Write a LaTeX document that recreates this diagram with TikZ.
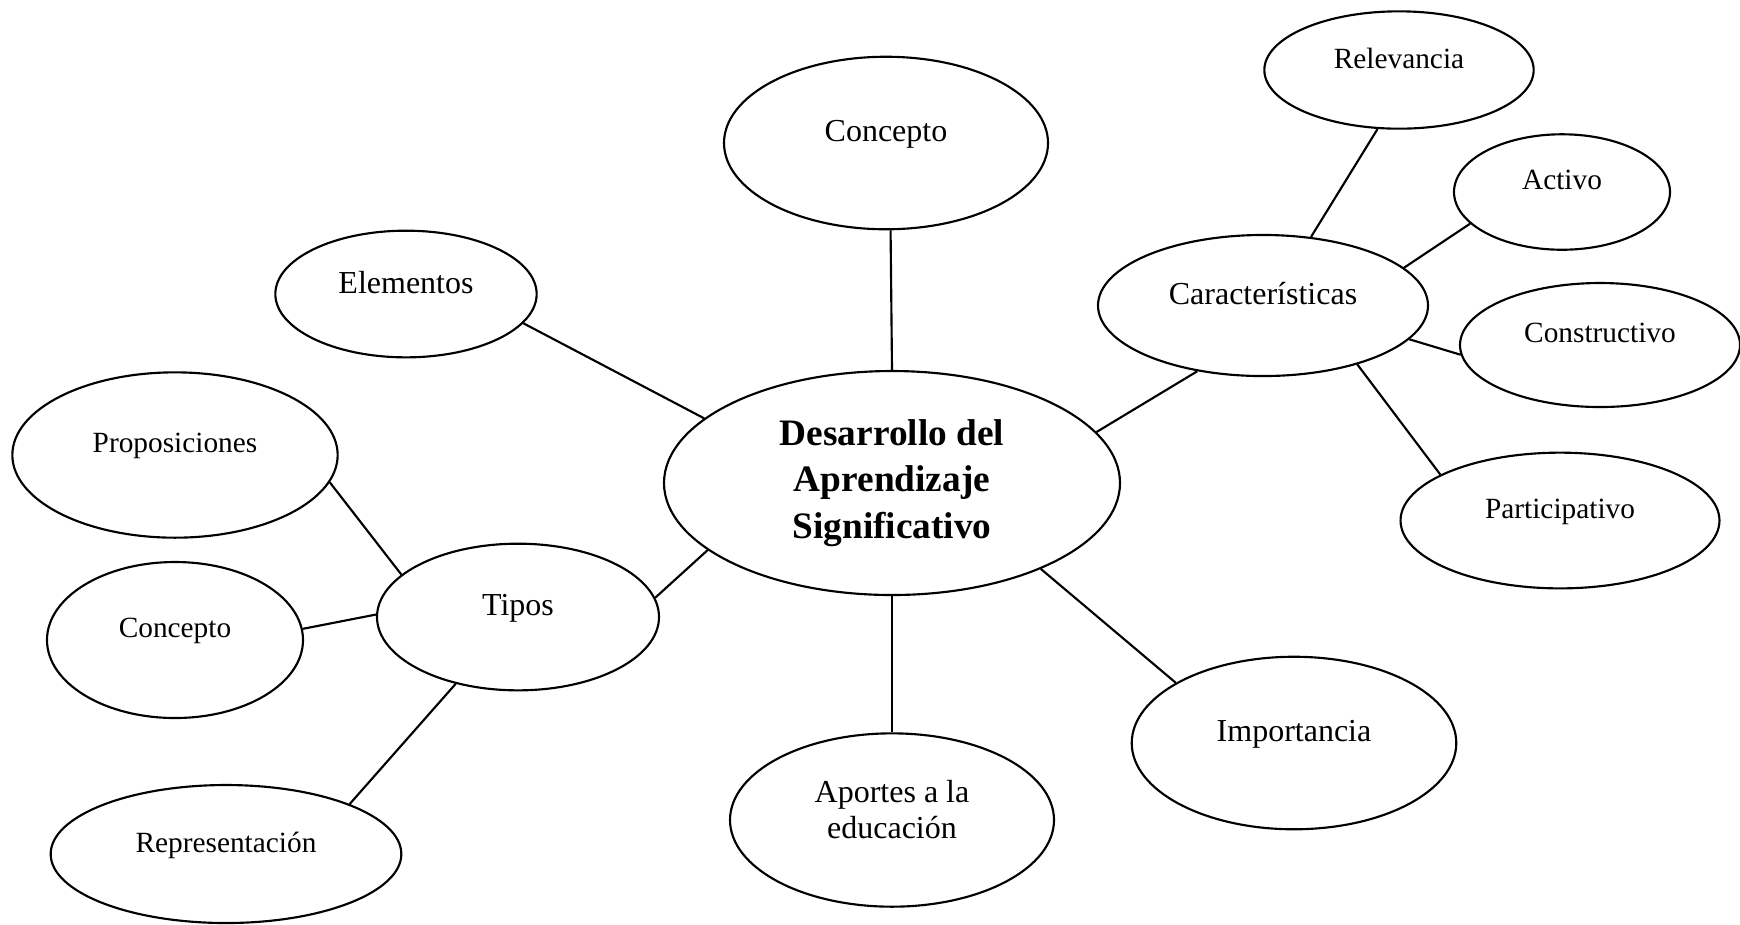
\documentclass[tikz,border=0pt]{standalone}
\usepackage{fontspec}
\setmainfont{Liberation Serif}
\usetikzlibrary{shapes.geometric}

\tikzset{
	burbuja/.style={ellipse, draw, line width=0.8pt, inner sep=0pt, text depth=9pt, font=\fontsize{12}{13.8}\selectfont},
	chica/.style={burbuja, font=\fontsize{11}{13}\selectfont},
	nucleo/.style={ellipse, draw, line width=0.8pt, inner sep=0pt, align=center, font=\fontsize{14}{17.5}\selectfont\bfseries},
	conector/.style={line width=0.8pt}
}

\begin{document}
\begin{tikzpicture}[x=0.375pt, y=-0.375pt]
	\useasboundingbox (0,0) rectangle (1740,924);
	% centro
	\node[nucleo, minimum width=171pt, minimum height=84pt] (central) at (892,483) {Desarrollo del\\Aprendizaje\\Significativo};
	% ramas
	\node[burbuja, minimum width=121.5pt, minimum height=64.7pt] (ct) at (886,143) {Concepto};
	\node[burbuja, minimum width=98pt, minimum height=47.5pt] (elem) at (406,294) {Elementos};
	\node[burbuja, minimum width=105.75pt, minimum height=55pt] (tipos) at (518,617) {Tipos};
	\node[burbuja, minimum width=123.75pt, minimum height=52.9pt] (car) at (1263,305.5) {Características};
	\node[burbuja, minimum width=121.7pt, minimum height=64.7pt] (imp) at (1294,743) {Importancia};
	\node[burbuja, align=center, text depth=8pt, minimum width=121.5pt, minimum height=65pt, font=\fontsize{12}{13.5}\selectfont] (aportes) at (892,820) {Aportes a la\\educación};
	% tipos
	\node[chica, minimum width=122pt, minimum height=62pt] (prop) at (175,455) {Proposiciones};
	\node[chica, minimum width=96pt, minimum height=58.5pt] (cl) at (175,640) {Concepto};
	\node[chica, minimum width=131.5pt, minimum height=51.75pt] (rep) at (226,854) {Representación};
	% caracteristicas
	\node[chica, minimum width=101pt, minimum height=44pt] (rel) at (1399,70) {Relevancia};
	\node[chica, minimum width=81pt, minimum height=43.3pt] (act) at (1562,192) {Activo};
	\node[chica, minimum width=105pt, minimum height=46.5pt] (constr) at (1600,345) {Constructivo};
	\node[chica, minimum width=119.6pt, minimum height=50.9pt] (part) at (1560,520.5) {Participativo};

	\path[conector]
	(elem.-14) edge (central.161)
	(ct.-87) edge (central.90)
	(central.14.5) edge (car.225)
	(central.-30.6) edge (imp.153)
	(central.south) edge (aportes.north)
	(central.200) edge (tipos.8.4)
	;
	\path[conector]
	(prop.-10) edge (tipos.160)
	(cl.5.4) edge (tipos.179)
	(rep.22.6) edge (tipos.227)
	(rel.250.7) edge (car.55)
	(act.199.7) edge (car.15.4)
	(constr.184.6) edge (car.-13)
	(part.159.4) edge (car.-32.3)
	;
\end{tikzpicture}
\end{document}
